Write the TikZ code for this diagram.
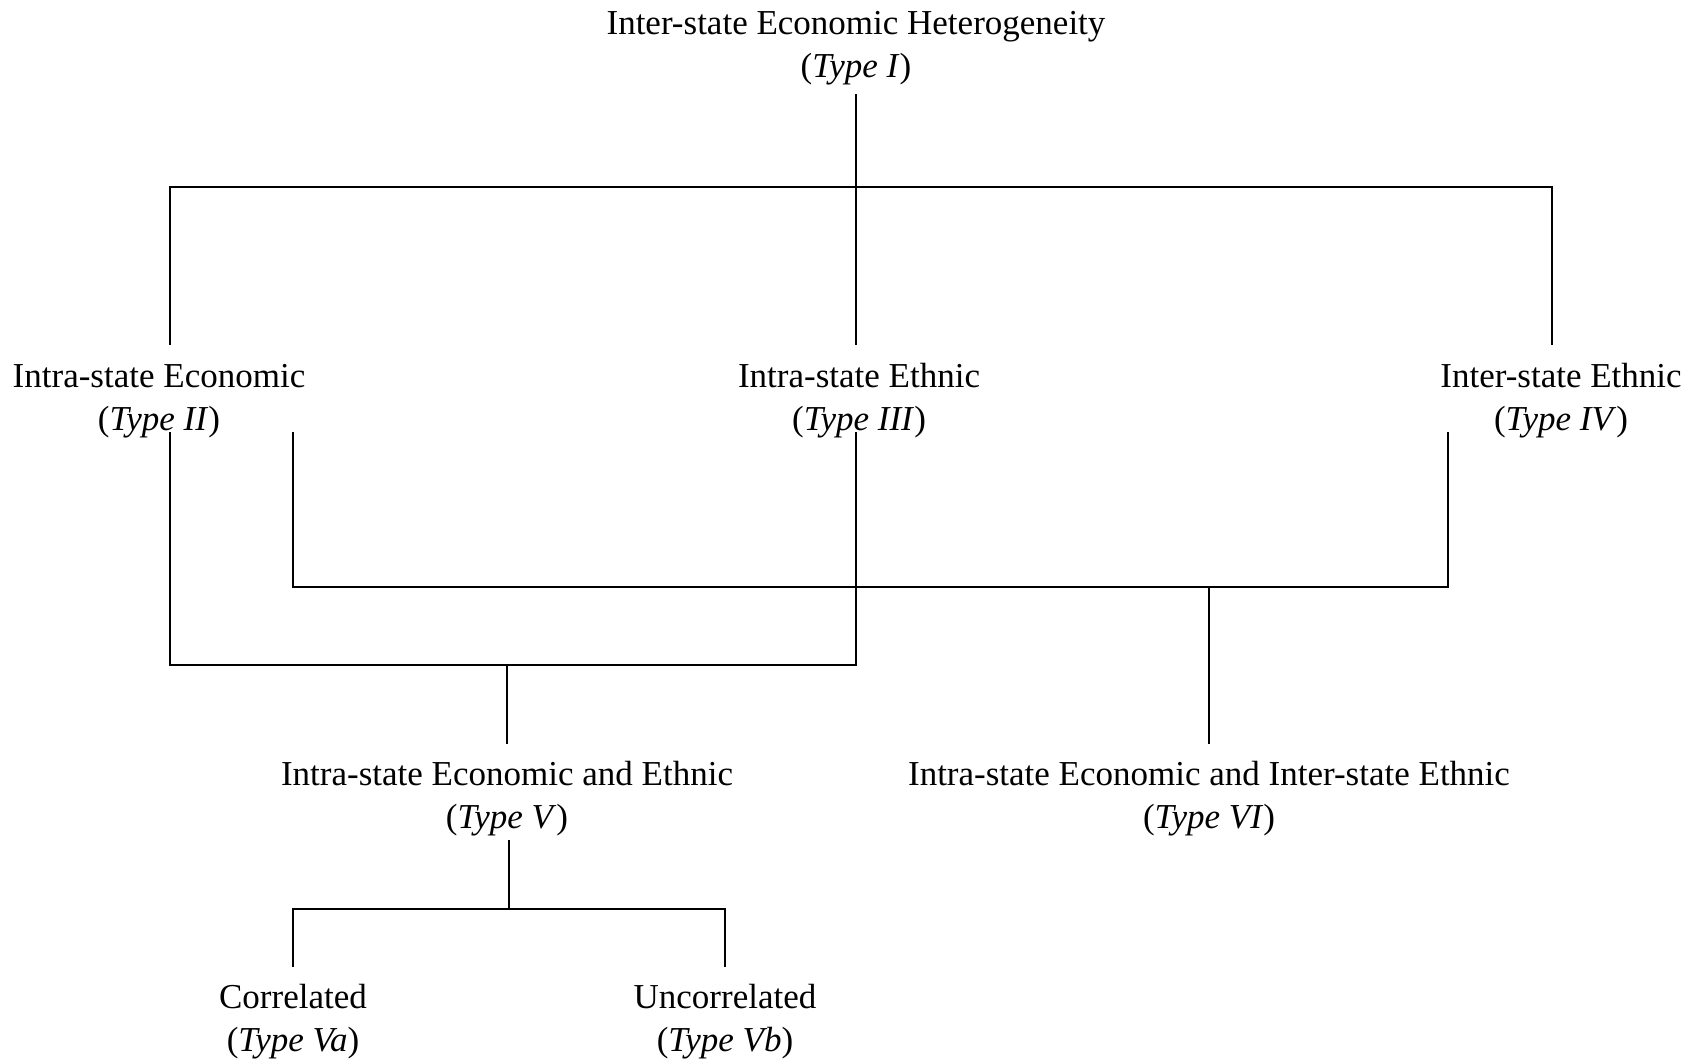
\documentclass[tikz,border=0pt]{standalone}
\usepackage{fontspec}
\setmainfont{Liberation Serif}
\begin{document}
\begin{tikzpicture}[x=0.5pt,y=-0.5pt,
  lbl/.style={align=center,anchor=base,inner sep=0pt,font=\fontsize{17.5}{21.5}\selectfont},
  conn/.style={line width=0.9pt,line cap=rect}]
\useasboundingbox (0,0) rectangle (1696,1060);
% labels (anchor = baseline of the last line)
\node[lbl] (t1) at (856,77) {Inter-state Economic Heterogeneity\\(\textit{Type I})};
\node[lbl] (t2) at (159,430) {Intra-state Economic\\(\textit{Type II})};
\node[lbl] (t3) at (859,430) {Intra-state Ethnic\\(\textit{Type III})};
\node[lbl] (t4) at (1561,430) {Inter-state Ethnic\\(\textit{Type IV})};
\node[lbl] (t5) at (507,828) {Intra-state Economic and Ethnic\\(\textit{Type V})};
\node[lbl] (t6) at (1209,828) {Intra-state Economic and Inter-state Ethnic\\(\textit{Type VI})};
\node[lbl] (t5a) at (293,1051) {Correlated\\(\textit{Type Va})};
\node[lbl] (t5b) at (725,1051) {Uncorrelated\\(\textit{Type Vb})};
% junction coordinates
\coordinate (a1) at (856,95);
\coordinate (a2) at (856,344);
\coordinate (hL) at (170,187);
\coordinate (hR) at (1552,187);
\coordinate (hL2) at (170,344);
\coordinate (hR2) at (1552,344);
\coordinate (b1) at (170,433);
\coordinate (b1b) at (170,665);
\coordinate (b1c) at (856,665);
\coordinate (b1d) at (856,433);
\coordinate (b2) at (293,433);
\coordinate (b2b) at (293,587);
\coordinate (b2c) at (1448,587);
\coordinate (b2d) at (1448,433);
\coordinate (b3) at (1209,587);
\coordinate (b3b) at (1209,743);
\coordinate (b4) at (507,665);
\coordinate (b4b) at (507,743);
\coordinate (c1) at (509,841);
\coordinate (c1b) at (509,909);
\coordinate (c2) at (293,966);
\coordinate (c2b) at (293,909);
\coordinate (c2c) at (725,909);
\coordinate (c2d) at (725,966);
% connectors
\draw[conn] (a1) -- (a2);
\draw[conn] (hL2) -- (hL) -- (hR) -- (hR2);
\draw[conn] (b1) -- (b1b) -- (b1c) -- (b1d);
\draw[conn] (b2) -- (b2b) -- (b2c) -- (b2d);
\draw[conn] (b3) -- (b3b);
\draw[conn] (b4) -- (b4b);
\draw[conn] (c1) -- (c1b);
\draw[conn] (c2) -- (c2b) -- (c2c) -- (c2d);
\end{tikzpicture}
\end{document}
